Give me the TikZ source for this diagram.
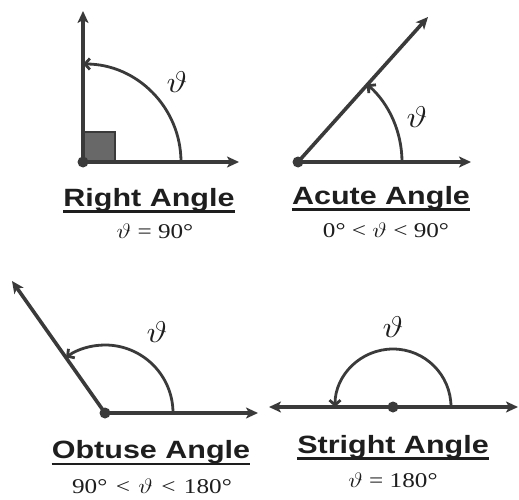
\RequirePackage{fix-cm}
\documentclass[tikz,border=0pt]{standalone}
\usepackage{fontspec}
\setmainfont{Liberation Serif}
\newfontfamily\titlefont{Liberation Sans}
\usetikzlibrary{arrows.meta}
\definecolor{ink}{HTML}{3A3A3A}
\definecolor{txt}{HTML}{1E1E1E}
\definecolor{sq}{HTML}{686868}
\begin{document}
\begin{tikzpicture}[x=1pt,y=1pt,
 ray/.style={line width=3.6pt, draw=ink, -{Stealth[length=12pt,width=11pt,inset=3pt]}},
 arcline/.style={line width=2.8pt, draw=ink, -{Straight Barb[length=5pt,width=11pt]}},
 vtx/.style={circle, fill=ink, inner sep=0pt, minimum size=11pt},
 title/.style={font=\titlefont\bfseries\fontsize{25}{28}\selectfont, text=txt, inner sep=0pt, anchor=base},
 formula/.style={font=\fontsize{21}{24}\selectfont, text=txt, inner sep=0pt, anchor=base},
 lab/.style={font=\fontsize{30}{34}\selectfont, text=txt, inner sep=0pt},
 uline/.style={line width=2.6pt, draw=txt}]
\useasboundingbox (0,0) rectangle (519,499);

% ---------- Right angle ----------
\draw[fill=sq, draw=ink, line width=2pt] (83,337) rectangle (115,367);
\node[vtx] (v1) at (83,337) {};
\coordinate (r1u) at (83,488);
\coordinate (r1r) at (239,337);
\coordinate (a1s) at (181,337);
\draw[ray] (v1.center) -- (r1u);
\draw[ray] (v1.center) -- (r1r);
\draw[arcline] (a1s) arc[start angle=0, end angle=90, radius=98];
\node[lab] (l1) at (177,417) {\scalebox{1.2}[1]{$\vartheta$}};
\node[title] (t1) at (149,293) {\scalebox{1.22}[1]{Right Angle}};
\draw[uline] ([yshift=-5.5pt]t1.base west) -- ([yshift=-5.5pt]t1.base east);
\node[formula] (f1) at (155,261) {\scalebox{1.2}[1]{$\vartheta$ = 90°}};

% ---------- Acute angle ----------
\node[vtx] (v2) at (298,337) {};
\coordinate (r2r) at (471,337);
\coordinate (r2s) at (428,482);
\coordinate (a2s) at (402,337);
\draw[ray] (v2.center) -- (r2r);
\draw[ray] (v2.center) -- (r2s);
\draw[arcline] (a2s) arc[start angle=0, end angle=48.3, radius=104];
\node[lab] (l2) at (417,382) {\scalebox{1.2}[1]{$\vartheta$}};
\node[title] (t2) at (381,295) {\scalebox{1.22}[1]{Acute Angle}};
\draw[uline] ([yshift=-5.5pt]t2.base west) -- ([yshift=-5.5pt]t2.base east);
\node[formula] (f2) at (386,262) {\scalebox{1.2}[1]{0° < $\vartheta$ < 90°}};

% ---------- Obtuse angle ----------
\node[vtx] (v3) at (105,86) {};
\coordinate (r3r) at (258,86);
\coordinate (r3s) at (12,218);
\coordinate (a3s) at (173,86);
\draw[ray] (v3.center) -- (r3r);
\draw[ray] (v3.center) -- (r3s);
\draw[arcline] (a3s) arc[start angle=0, end angle=125, radius=68];
\node[lab] (l3) at (157,167) {\scalebox{1.2}[1]{$\vartheta$}};
\node[title] (t3) at (151,41) {\scalebox{1.22}[1]{Obtuse Angle}};
\draw[uline] ([yshift=-6pt]t3.base west) -- ([yshift=-6pt]t3.base east);
\node[formula] (f3) at (152,6) {\scalebox{1.2}[1]{90°\hspace{7pt}<\hspace{7pt}$\vartheta$\hspace{7pt}<\hspace{7pt}180°}};

% ---------- Straight angle ----------
\node[vtx] (v4) at (393,92) {};
\coordinate (r4l) at (269,92);
\coordinate (r4r) at (518,92);
\coordinate (a4s) at (451,92);
\draw[ray, {Stealth[length=12pt,width=11pt,inset=3pt]}-{Stealth[length=12pt,width=11pt,inset=3pt]}] (r4l) -- (r4r);
\draw[arcline] (a4s) arc[start angle=0, end angle=180, radius=58];
\node[lab] (l4) at (393,172) {\scalebox{1.2}[1]{$\vartheta$}};
\node[title] (t4) at (393,46) {\scalebox{1.22}[1]{Stright Angle}};
\draw[uline] ([yshift=-5.5pt]t4.base west) -- ([yshift=-5.5pt]t4.base east);
\node[formula] (f4) at (393,12) {\scalebox{1.2}[1]{$\vartheta$ = 180°}};
\end{tikzpicture}
\end{document}
